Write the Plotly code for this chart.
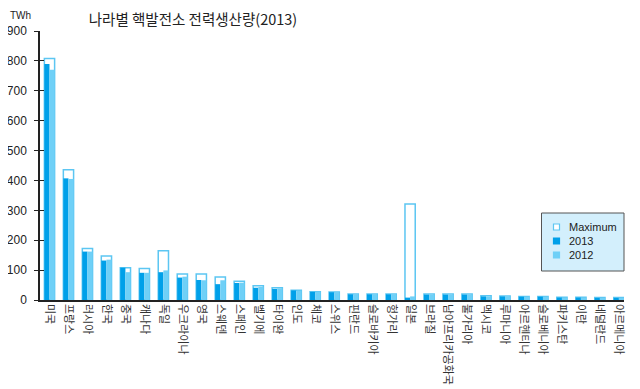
import plotly.graph_objects as go

countries = ["미국", "프랑스", "러시아", "한국", "중국", "캐나다", "독일", "우크라이나", "영국", "스웨덴",
             "스페인", "벨기에", "타이완", "인도", "체코", "스위스", "핀란드", "슬로바키아", "헝가리", "일본",
             "브라질", "남아프리카공화국", "불가리아", "멕시코", "루마니아", "아르헨티나", "슬로베니아", "파키스탄",
             "이란", "네덜란드", "아르메니아"]
maximum = [808, 436, 172, 147, 108, 105, 165, 87, 87, 77, 63, 48, 41, 33, 28, 27, 20, 20, 20, 321,
           20, 20, 20, 14, 13, 12, 12, 9, 9, 8, 8]
y2013 = [790, 407, 162, 132, 108, 91, 93, 75, 67, 53, 57, 41, 37, 32, 27, 26, 19, 19, 19, 8,
         18, 18, 18, 12, 12, 11, 11, 8, 8, 7, 7]
y2012 = [770, 405, 162, 135, 93, 91, 99, 78, 66, 66, 58, 44, 39, 31, 28, 26, 19, 19, 19, 12,
         18, 18, 18, 12, 12, 11, 11, 8, 8, 7, 7]
y_ticks = [0, 100, 200, 300, 400, 500, 600, 700, 800, 900]
legend_names = ["Maximum", "2013", "2012"]

C_MAX = "#5cc6f2"
C_2013 = "#00a0e9"
C_2012 = "#6fd0f7"
KFONT = "Noto Sans CJK KR"
NFONT = "Liberation Sans"

# page body has a default 8px margin: figure occupies window (8,8)-(640,389)
OFF = 8
W, H = 640 - OFF, 389 - OFF
# plot area in window coords: x 40..624, y 31..300
ML, MR, MT, MB = 40 - OFF, 640 - 624, 31 - OFF, 389 - 300
PW, PH = W - ML - MR, H - MT - MB


def px(x):  # window pixel -> paper x
    return (x - OFF - ML) / PW


def py(y):  # window pixel -> paper y
    return (H - MB - (y - OFF)) / PH


fig = go.Figure()
w = 0.54
fig.add_trace(go.Bar(x=countries, y=maximum, name=legend_names[0], width=w, offset=-w / 2,
                     marker=dict(color="white", line=dict(color=C_MAX, width=1.5))))
fig.add_trace(go.Bar(x=countries, y=y2013, name=legend_names[1], width=w / 2, offset=-w / 2,
                     marker=dict(color=C_2013, line=dict(width=0))))
fig.add_trace(go.Bar(x=countries, y=y2012, name=legend_names[2], width=w / 2, offset=0,
                     marker=dict(color=C_2012, line=dict(width=0))))
fig.add_trace(go.Scatter(x=[countries[0]], y=[0], yaxis="y2", showlegend=False,
                         mode="markers", marker=dict(opacity=0), hoverinfo="skip"))

shapes = [dict(type="rect", xref="paper", yref="paper", x0=px(541.5), x1=px(624), y0=py(271), y1=py(213),
               fillcolor="#d3effc", line=dict(color="#555", width=1), layer="above")]
sq_y = [227, 241, 255]
fills = ["white", C_2013, C_2012]
lines = [C_MAX, C_2013, C_2012]
annotations = []
for name, yc, f, lc in zip(legend_names, sq_y, fills, lines):
    shapes.append(dict(type="rect", xref="paper", yref="paper", x0=px(553.5), x1=px(559.5),
                       y0=py(yc + 3), y1=py(yc - 3), fillcolor=f, line=dict(color=lc, width=1.2),
                       layer="above"))
    annotations.append(dict(text=name, xref="paper", yref="paper", x=px(567), y=py(yc),
                            xanchor="left", yanchor="middle", showarrow=False,
                            font=dict(family=NFONT, size=11, color="#222")))
annotations.append(dict(text="TWh", xref="paper", yref="paper", x=px(20), y=py(15),
                        xanchor="center", yanchor="middle", showarrow=False,
                        font=dict(family=NFONT, size=10, color="#222")))

fig.update_layout(
    width=W, height=H,
    margin=dict(l=ML, r=MR, t=MT, b=MB, autoexpand=False),
    plot_bgcolor="white", paper_bgcolor="white",
    barmode="overlay", showlegend=False,
    title=dict(text="나라별 핵발전소 전력생산량(2013)", x=(193 - OFF) / W, xanchor="center",
               y=1 - (20 - OFF) / H, yanchor="middle",
               font=dict(family=KFONT, size=14.5, color="#222")),
    xaxis=dict(range=[-0.5, 30.27], tickangle=90, showline=True, linecolor="#222", linewidth=1.5,
               ticks="", tickfont=dict(family=KFONT, size=11, color="#333"), showgrid=False,
               zeroline=False, automargin=False),
    yaxis=dict(range=[0, 900], tickvals=y_ticks, showline=True, linecolor="#222", linewidth=1.5,
               ticks="outside", ticklen=4, tickcolor="#222", tickwidth=1.2, ticklabelstandoff=5,
               tickfont=dict(family=NFONT, size=12, color="#222"), showgrid=False, zeroline=False,
               automargin=False),
    yaxis2=dict(range=[0, 900], tickvals=y_ticks, overlaying="y", side="left", anchor="x",
                ticks="inside", ticklen=4, tickcolor="#222", tickwidth=1.2, automargin=False,
                showticklabels=False, showline=False, showgrid=False, zeroline=False),
    shapes=shapes,
    annotations=annotations,
)
fig.write_html("out.html")
